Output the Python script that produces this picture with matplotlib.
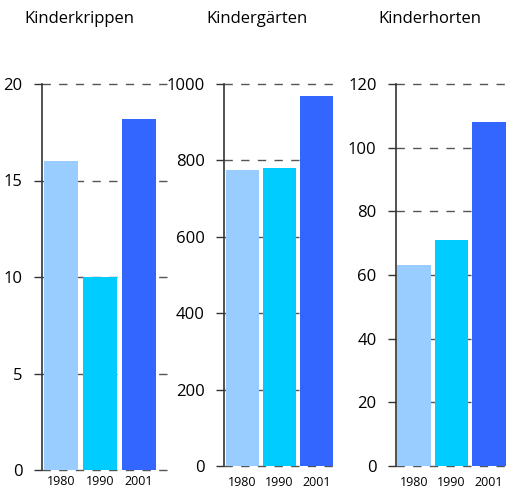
import matplotlib
matplotlib.use("Agg")
import matplotlib.pyplot as plt

years = ["1980", "1990", "2001"]
colors = ["#99ccff", "#00ccff", "#3366ff"]
titles = ["Kinderkrippen", "Kindergärten", "Kinderhorten"]
krippen = [16.0, 10.0, 18.2]
gaerten = [775, 780, 968]
horten = [63, 71, 108]
series = [krippen, gaerten, horten]
yticks = [[0, 5, 10, 15, 20], [0, 200, 400, 600, 800, 1000], [0, 20, 40, 60, 80, 100, 120]]

plt.rcParams['font.family'] = ['Open Sans', 'DejaVu Sans']
W, H = 507, 492
fig = plt.figure(figsize=(W/100, H/100), dpi=100)

# axes boxes in pixels: left, right, top, bottom
boxes = [(42, 170, 84, 470), (224, 338, 84, 466), (396, 507, 84, 466)]
xlims = [(-0.49, 2.79), (-0.5, 2.58), (-0.48, 2.48)]
widths = [0.87, 0.87, 0.9]
xpads = [3.5, 7, 7]

for i, (vals, box) in enumerate(zip(series, boxes)):
    l, r, t, b = box
    ax = fig.add_axes([l/W, 1 - b/H, (r-l)/W, (b-t)/H])
    ax.bar(range(3), vals, width=widths[i], color=colors, zorder=3)
    ax.set_xlim(*xlims[i])
    ax.set_ylim(0, yticks[i][-1])
    ax.set_yticks(yticks[i])
    ax.set_yticklabels([str(v) for v in yticks[i]], fontsize=12)
    ax.set_xticks(range(3))
    ax.set_xticklabels(years, fontsize=9)
    ax.tick_params(axis='x', length=0, pad=xpads[i])
    ax.tick_params(axis='y', length=6, width=1, color='#333333', pad=8)
    for s in ['top', 'right', 'bottom']:
        ax.spines[s].set_visible(False)
    ax.spines['left'].set_color('#333333')
    ax.spines['left'].set_linewidth(1.2)
    for v in yticks[i]:
        ax.axhline(v, color='#555555', lw=1, ls=(0, (6, 6)), zorder=1, clip_on=False)
    fig.text((l - 18)/W, 1 - 19/H, titles[i], fontsize=12, ha='left', va='center')

fig.savefig("out.png", dpi=100)
